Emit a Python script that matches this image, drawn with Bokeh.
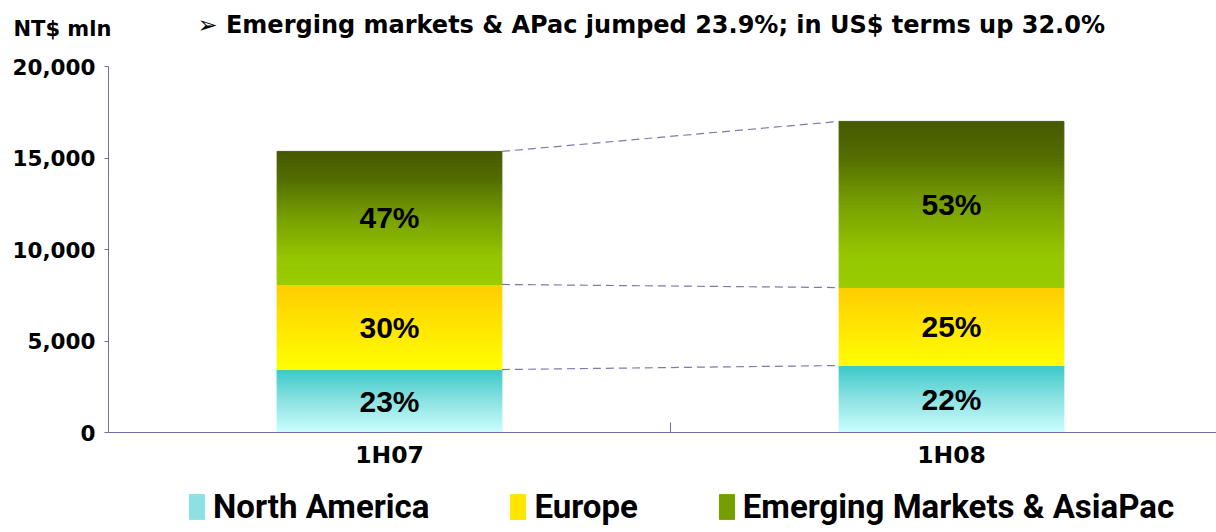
import numpy as np
from bokeh.plotting import figure
from bokeh.models import (Range1d, FixedTicker, NumeralTickFormatter, Legend, LegendItem,
                          ColumnDataSource, Label)
from bokeh.core.properties import value
from bokeh.embed import file_html
from bokeh.resources import INLINE

# ---------------- data ----------------
periods = ["1H07", "1H08"]
north_america = [3440, 3660]
europe = [4650, 4260]
emerging_apac = [7270, 9080]
na_pct = ["23%", "22%"]
eu_pct = ["30%", "25%"]
em_pct = ["47%", "53%"]
series_names = ["North America", "Europe", "Emerging Markets & AsiaPac"]
y_ticks = [0, 5000, 10000, 15000, 20000]
title_text = "\u27a2 Emerging markets & APac jumped 23.9%; in US$ terms up 32.0%"
unit_text = "NT$ mln"

# ---------------- style / layout ----------------
W, H = 1216, 532
AX_X, AX_Y = 108, 432            # pixel position of the axes' origin
PX_PER_UNIT_X = 562
PX_PER_20K = 366
BAR_X = [0.5, 1.5]
BAR_W = 0.4
N_BANDS = 50
Y_MAX = 20000
AXIS_COLOR = "#7070A6"
grad_na = [(0.0, "#3CCACA"), (0.5, "#8EE2E2"), (1.0, "#CCFFFF")]
grad_eu = [(0.0, "#FFCC00"), (1.0, "#FFFF00")]
grad_em = [(0.0, "#475900"), (0.2, "#526C00"), (0.5, "#78A000"), (0.8, "#96C600"), (1.0, "#99CC00")]


def hex2rgb(h):
    h = h.lstrip("#")
    return [int(h[i:i + 2], 16) for i in (0, 2, 4)]


def interp(stops, t):
    for (t0, c0), (t1, c1) in zip(stops[:-1], stops[1:]):
        if t <= t1:
            f = 0 if t1 == t0 else (t - t0) / (t1 - t0)
            a, b = hex2rgb(c0), hex2rgb(c1)
            return "#%02x%02x%02x" % tuple(int(round(a[k] + (b[k] - a[k]) * f)) for k in range(3))
    return stops[-1][1]


def band_source(bottoms, tops, stops):
    d = dict(x=[], bottom=[], top=[], color=[])
    for x, b, t in zip(BAR_X, bottoms, tops):
        for i in range(N_BANDS):
            y0 = b + (t - b) * i / N_BANDS
            y1 = b + (t - b) * (i + 1) / N_BANDS
            d["x"].append(x)
            d["bottom"].append(y0)
            d["top"].append(y1)
            d["color"].append(interp(stops, 1 - (i + 0.5) / N_BANDS))
    return ColumnDataSource(d)


na_b = [0, 0]
na_t = list(north_america)
eu_b = na_t
eu_t = [a + b for a, b in zip(na_t, europe)]
em_b = eu_t
em_t = [a + b for a, b in zip(eu_t, emerging_apac)]

x_end = (W - AX_X) / PX_PER_UNIT_X
p = figure(width=W, height=H, output_backend="svg", toolbar_location=None,
           x_range=Range1d(-AX_X / PX_PER_UNIT_X, x_end),
           y_range=Range1d(-(H - AX_Y) * Y_MAX / PX_PER_20K, AX_Y * Y_MAX / PX_PER_20K),
           min_border_left=0, min_border_right=0, min_border_top=0, min_border_bottom=0)
p.outline_line_color = None
p.grid.visible = False

renderers = []
for bts, tps, stops in [(na_b, na_t, grad_na), (eu_b, eu_t, grad_eu), (em_b, em_t, grad_em)]:
    src = band_source(bts, tps, stops)
    r = p.vbar(x="x", width=BAR_W, bottom="bottom", top="top", source=src,
               fill_color="color", line_color="color", line_width=1)
    renderers.append(r)

# dashed connectors
for cum in (na_t, eu_t, em_t):
    p.segment(x0=[BAR_X[0] + BAR_W / 2], y0=[cum[0]], x1=[BAR_X[1] - BAR_W / 2], y1=[cum[1]],
              line_color="#7B7BAE", line_width=1.2, line_dash="8 5")

# percentage labels
for bts, tps, labels in [(na_b, na_t, na_pct), (eu_b, eu_t, eu_pct), (em_b, em_t, em_pct)]:
    p.text(x=BAR_X, y=[(a + b) / 2 for a, b in zip(bts, tps)], text=labels,
           text_font=value("Liberation Sans"), text_font_style="bold",
           text_font_size="30px", text_align="center", text_baseline="middle",
           text_color="black")

# x axis (fixed at y = 0)
xa = p.xaxis[0]
xa.fixed_location = 0
xa.bounds = (0, x_end)
xa.ticker = FixedTicker(ticks=BAR_X, minor_ticks=[1.0])
xa.major_label_overrides = {BAR_X[0]: periods[0], BAR_X[1]: periods[1]}
xa.major_tick_in = 0
xa.major_tick_out = 0
xa.minor_tick_in = 10
xa.minor_tick_out = 0
xa.minor_tick_line_color = AXIS_COLOR
xa.axis_line_color = AXIS_COLOR
xa.major_label_text_font = "DejaVu Sans"
xa.major_label_text_font_style = "bold"
xa.major_label_text_font_size = "23.5px"
xa.major_label_text_color = "black"
xa.major_label_standoff = 8

# y axis (fixed at x = 0)
ya = p.yaxis[0]
ya.fixed_location = 0
ya.bounds = (0, Y_MAX)
ya.ticker = FixedTicker(ticks=y_ticks)
ya.formatter = NumeralTickFormatter(format="0,0")
ya.axis_line_color = AXIS_COLOR
ya.major_tick_in = 0
ya.major_tick_out = 4
ya.minor_tick_in = 0
ya.minor_tick_out = 0
ya.major_tick_line_color = AXIS_COLOR
ya.major_label_text_font = "DejaVu Sans"
ya.major_label_text_font_style = "bold"
ya.major_label_text_font_size = "21.5px"
ya.major_label_text_color = "black"
ya.major_label_standoff = 9

# unit caption and headline
p.add_layout(Label(x=13, y=H - 28, x_units="screen", y_units="screen",
                   text=unit_text, text_font="DejaVu Sans", text_font_style="bold",
                   text_font_size="21px", text_baseline="alphabetic", text_color="black"))
p.add_layout(Label(x=197, y=H - 24, x_units="screen", y_units="screen",
                   text=title_text, text_font="DejaVu Sans", text_font_style="bold",
                   text_font_size="24px", text_baseline="alphabetic", text_color="black"))

# legend
items = [LegendItem(label=name, renderers=[r], index=N_BANDS // 2)
         for name, r in zip(series_names, renderers)]
legend = Legend(items=items, orientation="horizontal", location=(187, 6),
                glyph_width=19, glyph_height=31, label_standoff=7, spacing=79,
                padding=0, margin=0, border_line_alpha=0, background_fill_alpha=0,
                label_text_font="Roboto", label_text_font_style="bold",
                label_text_font_size="33px", label_text_color="black")
p.add_layout(legend, "center")

open("out.html", "w").write(file_html(p, INLINE))
